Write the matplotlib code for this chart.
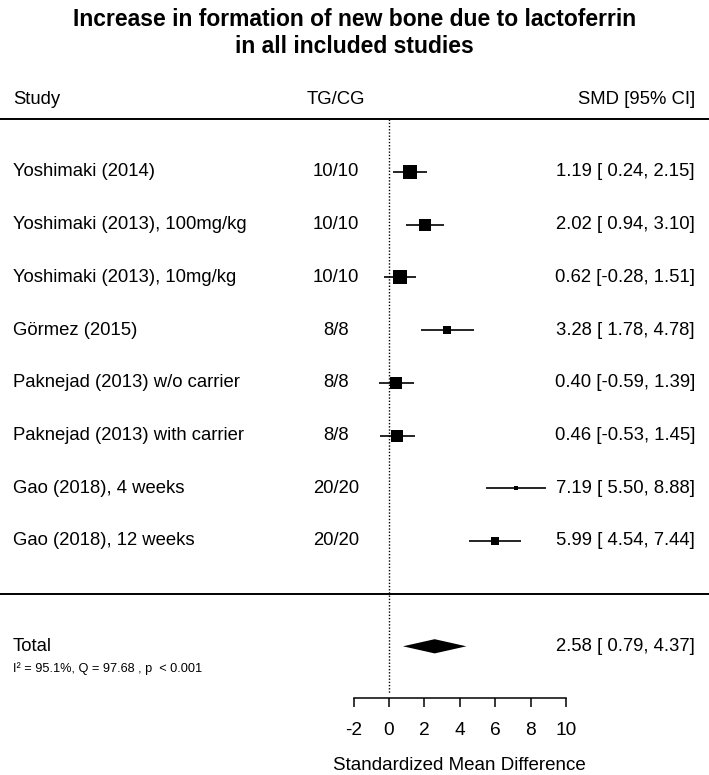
import matplotlib
matplotlib.use("Agg")
import matplotlib.pyplot as plt
import matplotlib.transforms as mtransforms
import numpy as np

# ---------------- data ----------------
studies = [
    "Yoshimaki (2014)",
    "Yoshimaki (2013), 100mg/kg",
    "Yoshimaki (2013), 10mg/kg",
    "Görmez (2015)",
    "Paknejad (2013) w/o carrier",
    "Paknejad (2013) with carrier",
    "Gao (2018), 4 weeks",
    "Gao (2018), 12 weeks",
]
tg_cg = ["10/10", "10/10", "10/10", "8/8", "8/8", "8/8", "20/20", "20/20"]
smd = [1.19, 2.02, 0.62, 3.28, 0.40, 0.46, 7.19, 5.99]
ci_low = [0.24, 0.94, -0.28, 1.78, -0.59, -0.53, 5.50, 4.54]
ci_high = [2.15, 3.10, 1.51, 4.78, 1.39, 1.45, 8.88, 7.44]
rel_weight = [0.91, 0.84, 1.00, 0.48, 0.84, 0.88, 0.29, 0.52]

total_label = "Total"
total_smd = 2.58
total_low = 0.79
total_high = 4.37
het_text = "I² = 95.1%, Q = 97.68 , p  < 0.001"

x_ticks = [-2, 0, 2, 4, 6, 8, 10]
title = "Increase in formation of new bone due to lactoferrin\nin all included studies"
xlabel = "Standardized Mean Difference"
headers = ["Study", "TG/CG", "SMD [95% CI]"]

# ---------------- layout ----------------
plt.rcParams["font.family"] = ["Liberation Sans", "DejaVu Sans"]

W, H = 709, 775
fig = plt.figure(figsize=(W / 100, H / 100), dpi=100)
ax = fig.add_axes([0, 0, 1, 1])

px_per_unit = 17.7
x0_px = 389
row_px = 52.7
row1_px = 172
ax.set_xlim(-x0_px / px_per_unit, (W - x0_px) / px_per_unit)
ax.set_ylim(1 + (H - row1_px) / row_px, 1 - row1_px / row_px)

n = len(studies)
rows = np.arange(1, n + 1)
header_y = -0.385
header_line_y = 0.0
sep_y = n + 1
total_y = n + 2
het_y = total_y + 0.43
axis_y = total_y + 0.98

col_study = mtransforms.blended_transform_factory(ax.transAxes, ax.transData)
study_x = 13 / W
tg_x = -3.0
smd_right = 17.29
fs = 13.3

# header
ax.text(study_x, header_y, headers[0], transform=col_study, ha="left", va="center", fontsize=fs)
ax.text(tg_x, header_y, headers[1], ha="center", va="center", fontsize=fs)
ax.text(smd_right, header_y, headers[2], ha="right", va="center", fontsize=fs)
ax.axhline(header_line_y, color="black", lw=1.4)
ax.axhline(sep_y, color="black", lw=1.4)

# reference line at 0
ax.vlines(0, header_line_y, axis_y - 0.1, colors="black", linestyles=(0, (1, 1.3)), lw=1.0)

# studies
max_box_pt = 10.6
for i in range(n):
    y = rows[i]
    ax.errorbar(smd[i], y,
                xerr=[[smd[i] - ci_low[i]], [ci_high[i] - smd[i]]],
                fmt="s", color="black", ecolor="black", elinewidth=1.2,
                capsize=3.2, capthick=1.2, ms=max_box_pt * rel_weight[i], mew=0)
    ax.text(study_x, y, studies[i], transform=col_study, ha="left", va="center", fontsize=fs)
    ax.text(tg_x, y, tg_cg[i], ha="center", va="center", fontsize=fs)
    ax.text(smd_right, y, f"{smd[i]:.2f} [{ci_low[i]:5.2f}, {ci_high[i]:.2f}]",
            ha="right", va="center", fontsize=fs)

# total diamond
dh = 0.135
ax.fill([total_low, total_smd, total_high, total_smd],
        [total_y, total_y - dh, total_y, total_y + dh], color="black", lw=0)
ax.text(study_x, total_y, total_label, transform=col_study, ha="left", va="center", fontsize=fs)
ax.text(smd_right, total_y, f"{total_smd:.2f} [{total_low:5.2f}, {total_high:.2f}]",
        ha="right", va="center", fontsize=fs)
ax.text(study_x, het_y, het_text, transform=col_study, ha="left", va="center", fontsize=9.2)

# axis
for s in ["top", "left", "right"]:
    ax.spines[s].set_visible(False)
ax.spines["bottom"].set_position(("data", axis_y))
ax.spines["bottom"].set_bounds(min(x_ticks), max(x_ticks))
ax.spines["bottom"].set_linewidth(1.1)
ax.set_xticks(x_ticks)
ax.set_xticklabels([str(t) for t in x_ticks])
ax.set_yticks([])
ax.tick_params(axis="x", length=6.5, width=1.1, pad=11, labelsize=13.8)
ax.set_xlabel(xlabel, fontsize=13.5)
ax.xaxis.set_label_coords(4, (H - 765) / H,
                          transform=mtransforms.blended_transform_factory(ax.transData, ax.transAxes))
ax.xaxis.label.set_verticalalignment("center")

# title
fig.text(0.5, (H - 33) / H, title, ha="center", va="center", fontsize=16.5,
         fontweight="bold", linespacing=1.25)

fig.savefig("out.png", dpi=100)
